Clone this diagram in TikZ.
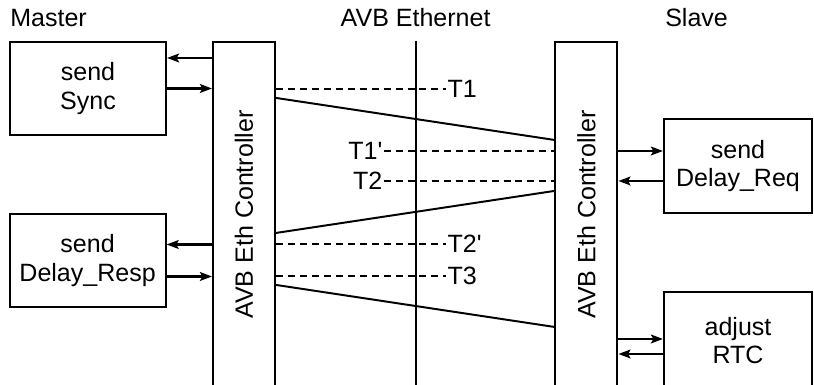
\documentclass[tikz,border=0pt]{standalone}
\usepackage{fontspec}
\usepackage{graphicx}
\usepackage{tikz}
\usetikzlibrary{arrows.meta}
\setmainfont{Liberation Sans}

\tikzset{
  blk/.style={draw,line width=1.5pt,minimum width=3.9cm,minimum height=2.325cm,align=center,inner sep=0pt},
  ctrl/.style={draw,line width=1.5pt,minimum width=1.55cm,minimum height=8.625cm,inner sep=0pt},
  msg/.style={line width=1.4pt},
  stamp/.style={line width=1.3pt,dash pattern=on 5pt off 3.5pt},
  arr/.style={line width=1.5pt,-{Stealth[length=0.3cm,width=0.22cm,inset=0.06cm]}},
  tlbl/.style={inner sep=1pt},
  head/.style={inner sep=0pt}
}

\begin{document}
\begin{tikzpicture}[x=1cm,y=1cm,font=\fontsize{17.8pt}{20pt}\selectfont]
\path[use as bounding box] (0,0) rectangle (20.35,9.625);
\clip (0,0) rectangle (20.35,9.625);
% headings
\node[head,anchor=base west] (master) at (0.25,8.95) {Master};
\node[head,anchor=base] (eth) at (10.39,8.95) {AVB Ethernet};
\node[head,anchor=base west] (slave) at (16.625,8.95) {Slave};
% blocks
\node[blk] (sync) at (2.2,7.4125) {send\\Sync};
\node[blk] (resp) at (2.19,3.1125) {send\\Delay\_Resp};
\node[ctrl] (ctrlL) at (6.1,4.2625) {\rotatebox{90}{AVB Eth Controller}};
\node[ctrl] (ctrlR) at (14.66,4.2625) {\rotatebox{90}{AVB Eth Controller}};
\node[blk,minimum width=3.7cm,minimum height=2.35cm] (req) at (18.45,5.475) {send\\Delay\_Req};
\node[blk,minimum width=3.7cm,minimum height=2.45cm] (rtc) at (18.45,1.1) {adjust\\RTC};
% wire
\draw[msg] (eth.south |- ctrlL.north) -- (eth.south |- ctrlL.south);
% master side
\coordinate (s1) at ([yshift=0.7625cm]sync.east);
\draw[arr] (s1 -| ctrlL.west) -- (s1);
\draw[arr] (sync.east) -- (sync.east -| ctrlL.west);
\coordinate (r1) at ([yshift=0.4cm]resp.east);
\coordinate (r2) at ([yshift=-0.4cm]resp.east);
\draw[arr] (r1 -| ctrlL.west) -- (r1);
\draw[arr] (r2) -- (r2 -| ctrlL.west);
% slave side
\coordinate (q1) at ([yshift=0.375cm]req.west);
\coordinate (q2) at ([yshift=-0.375cm]req.west);
\draw[arr] (q1 -| ctrlR.east) -- (q1);
\draw[arr] (q2) -- (q2 -| ctrlR.east);
\coordinate (c1) at ([yshift=0.05cm]rtc.west);
\coordinate (c2) at ([yshift=-0.325cm]rtc.west);
\draw[arr] (c1 -| ctrlR.east) -- (c1);
\draw[arr] (c2) -- (c2 -| ctrlR.east);
% frames on the wire
\draw[msg] ([yshift=-1.425cm]ctrlL.north east) -- ([yshift=-2.475cm]ctrlR.north west);
\draw[msg] ([yshift=-3.75cm]ctrlR.north west) -- ([yshift=-4.8cm]ctrlL.north east);
\draw[msg] ([yshift=-6.1cm]ctrlL.north east) -- ([yshift=-7.15cm]ctrlR.north west);
% time stamps
\node[tlbl,anchor=west] (t1) at (11.15,7.4) {T1};
\node[tlbl,anchor=east] (t1p) at (9.6,5.85) {T1\textquotesingle};
\node[tlbl,anchor=east] (t2) at (9.6,5.1) {T2};
\node[tlbl,anchor=west] (t2p) at (11.15,3.525) {T2\textquotesingle};
\node[tlbl,anchor=west] (t3) at (11.15,2.725) {T3};
\draw[stamp] (ctrlL.east |- t1.west) -- (t1.west);
\draw[stamp] (t1p.east) -- (t1p.east -| ctrlR.west);
\draw[stamp] (t2.east) -- (t2.east -| ctrlR.west);
\draw[stamp] (ctrlL.east |- t2p.west) -- (t2p.west);
\draw[stamp] (ctrlL.east |- t3.west) -- (t3.west);
\end{tikzpicture}
\end{document}
